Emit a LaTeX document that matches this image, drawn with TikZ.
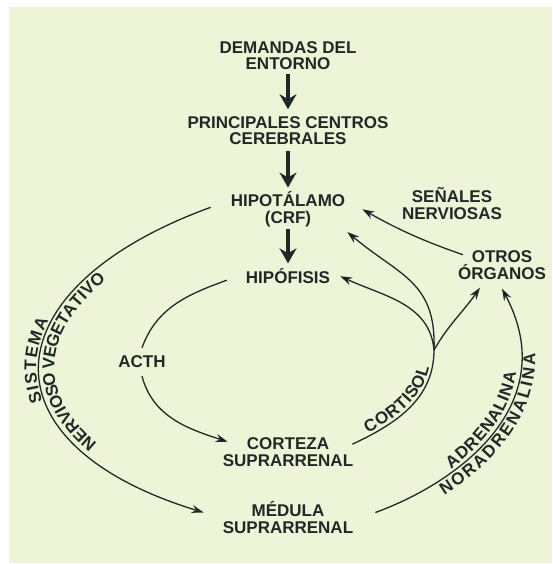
\documentclass[tikz,border=0pt]{standalone}
\usepackage{fontspec}
\setmainfont{Liberation Sans}
\usepackage{tikz}
\usetikzlibrary{arrows.meta, positioning, decorations.text}
\definecolor{PaperGreen}{HTML}{EDF4D8}
\definecolor{InkDark}{HTML}{1F2A26}
\newcommand{\lblfont}{\bfseries\fontsize{17}{16.5}\selectfont}

\begin{document}
\begin{tikzpicture}[x=1pt, y=1pt,
  lbl/.style={align=center, inner sep=2pt, font=\lblfont, text=InkDark},
  bigarrow/.style={draw=InkDark, line width=3.5pt, -{Stealth[length=15pt,width=17pt]}},
  conn/.style={draw=InkDark, line width=1.3pt},
  thinarrow/.style={conn, -{Stealth[length=12pt,width=8pt]}},
  along/.style 2 args={postaction={decorate, decoration={text along path,
      text align=center, raise=#2, text color=InkDark, text={|\lblfont|#1}}}}]
  % paper
  \useasboundingbox (0,0) rectangle (552,-564);
  \fill[PaperGreen] (9,-7) rectangle (552,-563);

  % labels
  \node[lbl] (dem) at (288,-55.7) {DEMANDAS DEL\\ENTORNO};
  \node[lbl] (cen) at (288,-130.7) {PRINCIPALES CENTROS\\CEREBRALES};
  \node[lbl] (hip) at (288,-209.3) {HIPOTÁLAMO\\(CRF)};
  \node[lbl] (hipo) at (288,-276.2) {HIPÓFISIS};
  \node[lbl, inner sep=8pt] (acth) at (142,-362) {ACTH};
  \node[lbl] (cor) at (288,-452.2) {CORTEZA\\SUPRARRENAL};
  \node[lbl] (med) at (288,-517.5) {MÉDULA\\SUPRARRENAL};
  \node[lbl] (sen) at (452,-203.5) {SEÑALES\\NERVIOSAS};
  \node[lbl] (otr) at (502,-265.2) {OTROS\\ÓRGANOS};
  \coordinate (fork) at (434,-350);

  % main chain
  \draw[bigarrow, shorten <=2pt, shorten >=5pt] (dem) -- (cen);
  \draw[bigarrow, shorten <=4pt, shorten >=2pt] (cen) -- (hip);
  \draw[bigarrow, shorten >=3pt] (hip) -- (hipo);

  % sistema nervioso vegetativo
  \draw[thinarrow] ([shift={(-18,2)}]hip.west) to[out=200, in=163, distance=236pt] ([shift={(-17,5)}]med.west);
  \path[along={{S\kern1pt}{I\kern1pt}{S\kern1pt}{T\kern1pt}{E\kern1pt}{M\kern1pt}A}{3pt},
        along={{N\kern1pt}{E\kern1pt}{R\kern1pt}{V\kern1pt}{I\kern1pt}{O\kern1pt}{S\kern1pt}{O\kern1pt} {V\kern1pt}{E\kern1pt}{G\kern1pt}{E\kern1pt}{T\kern1pt}{A\kern1pt}{T\kern1pt}{I\kern1pt}{V\kern1pt}O}{-15pt}]
    ([shift={(-17,5)}]med.west) to[out=163, in=200, distance=236pt] ([shift={(-18,2)}]hip.west);

  % ACTH
  \draw[conn] ([shift={(-17,-4)}]hipo.west) to[out=200, in=70] (acth.north);
  \draw[thinarrow] (acth.south) to[out=-75, in=162] ([shift={(7,-6)}]cor.north west);

  % cortisol
  \draw[conn, along={{C\kern1pt}{O\kern1pt}{R\kern1pt}{T\kern1pt}{I\kern1pt}{S\kern1pt}{O\kern1pt}L}{3pt}]
    ([shift={(-3,8)}]cor.east) to[out=25, in=-90] (fork);
  \draw[thinarrow] (fork) to[out=95, in=-25] ([xshift=8pt]hipo.east);
  \draw[thinarrow] (fork) to[out=88, in=-40, looseness=1.2] ([yshift=-3pt]hip.south east);
  \draw[thinarrow] (fork) to[out=60, in=-125] ([shift={(-22,-6)}]otr.south);

  % adrenalina
  \draw[thinarrow, along={{A\kern1pt}{D\kern1pt}{R\kern1pt}{E\kern1pt}{N\kern1pt}{A\kern1pt}{L\kern1pt}{I\kern1pt}{N\kern1pt}A}{3pt},
        along={{N\kern1pt}{O\kern1pt}{R\kern1pt}{A\kern1pt}{D\kern1pt}{R\kern1pt}{E\kern1pt}{N\kern1pt}{A\kern1pt}{L\kern1pt}{I\kern1pt}{N\kern1pt}A}{-15pt}]
    ([shift={(20,5)}]med.east) to[out=20, in=-62, out distance=90pt, in distance=130pt] ([yshift=-7pt]otr.south);

  % señales nerviosas
  \draw[thinarrow] ([shift={(7,-6)}]otr.north west) to[bend left=5] ([xshift=15pt]hip.east);
\end{tikzpicture}
\end{document}
